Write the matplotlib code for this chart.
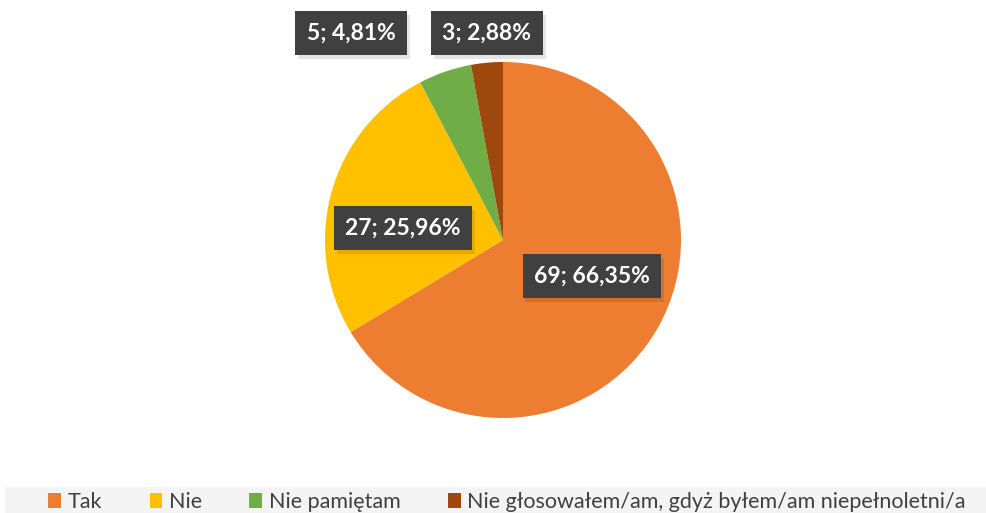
import matplotlib.pyplot as plt
from matplotlib.patches import Rectangle
import matplotlib.patheffects as pe

categories = ["Tak", "Nie", "Nie pamiętam", "Nie głosowałem/am, gdyż byłem/am niepełnoletni/a"]
counts = [69, 27, 5, 3]
percents = ["66,35%", "25,96%", "4,81%", "2,88%"]
colors = ["#ED7D31", "#FFC000", "#70AD47", "#9E480E"]

W, H = 987, 513
fig = plt.figure(figsize=(W / 100, H / 100), dpi=100)
fig.patch.set_facecolor("white")

# pie area in pixels: center (503, 240), radius 178
cx, cy, r = 503, 240, 178
ax = fig.add_axes([(cx - r) / W, (H - cy - r) / H, 2 * r / W, 2 * r / H])
wedges, _ = ax.pie(counts, colors=colors, startangle=90, counterclock=False,
                   radius=1.0, wedgeprops=dict(linewidth=0))
ax.set_xlim(-1, 1)
ax.set_ylim(-1, 1)
ax.set_aspect("equal")
ax.axis("off")

# label boxes (positions in pixels from top-left, like Excel's manual placement)
label_pos = [(592, 276), (403, 228), (351, 33), (487, 33)]
for (px, py), n, p in zip(label_pos, counts, percents):
    t = fig.text(px / W, (H - py) / H, f"{n}; {p}", ha="center", va="center",
                 fontsize=16.5, fontweight="bold", family="Lato", color="white",
                 bbox=dict(boxstyle="square,pad=0.5", fc="#404040", ec="none"))
    t.get_bbox_patch().set_path_effects([
        pe.SimplePatchShadow(offset=(2, -3), shadow_rgbFace="black", alpha=0.1),
        pe.Normal()])

# legend band
fig.patches.append(Rectangle((5 / W, 0), (W - 5) / W, 26 / H, transform=fig.transFigure,
                             fc="#F4F4F4", ec="none", zorder=0))
handles = [Rectangle((0, 0), 1, 1, fc=c, ec="none") for c in colors]
leg = fig.legend(handles, categories, loc="center", bbox_to_anchor=(507 / W, 11 / H),
                 ncol=4, frameon=False, prop=dict(family="Lato", size=15.5),
                 handlelength=0.6, handleheight=0.75, handletextpad=0.3,
                 columnspacing=2.2, labelcolor="#404040", borderpad=0)

fig.savefig("out.png", dpi=100)
